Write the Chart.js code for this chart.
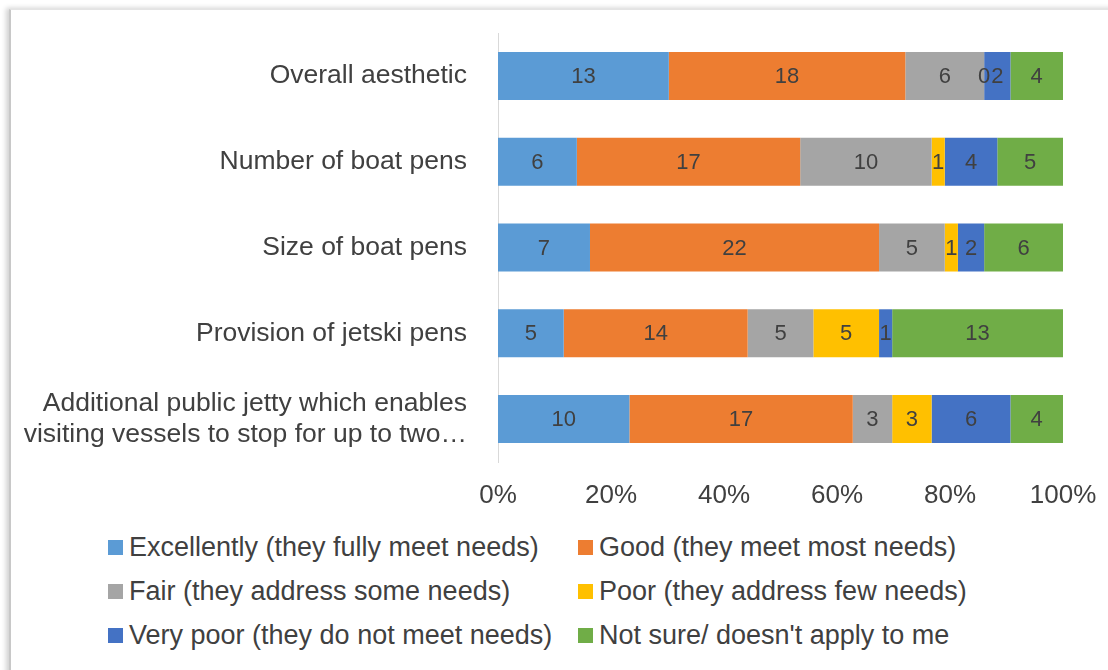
<!DOCTYPE html>
<html>
<head>
<meta charset="utf-8">
<script src="https://cdn.jsdelivr.net/npm/chart.js@4"></script>
<style>
    html, body { margin: 0; padding: 0; background: #fff; }
    body { width: 1108px; height: 670px; position: relative; overflow: hidden; font-family: "Liberation Sans", Arial, sans-serif; }
    .frame {
        position: absolute; left: 9px; top: 9px; width: 1200px; height: 800px;
        border-left: 2px solid #c8c8c8; border-top: 1px solid #e4e4e4;
        box-shadow: -3px -1px 5px rgba(0, 0, 0, 0.18);
        background: #fff;
    }
    #chartWrap { position: absolute; left: 0; top: 0; width: 1108px; height: 520px; }
    #legend {
        position: absolute; left: 108px; top: 525px;
        display: grid; grid-template-columns: 470px auto; grid-auto-rows: 44px;
        color: #404040; font-size: 27px;
    }
    .item { display: flex; align-items: center; white-space: nowrap; }
    .box { width: 15px; height: 15px; margin-right: 6px; flex: none; }
</style>
</head>
<body>
<div class="frame"></div>
<div id="chartWrap"><canvas id="chart"></canvas></div>
<div id="legend"></div>
<script>
const categories = [
    'Overall aesthetic',
    'Number of boat pens',
    'Size of boat pens',
    'Provision of jetski pens',
    ['Additional public jetty which enables', 'visiting vessels to stop for up to two\u2026']
];

const seriesNames = [
    'Excellently (they fully meet needs)',
    'Good (they meet most needs)',
    'Fair (they address some needs)',
    'Poor (they address few needs)',
    'Very poor (they do not meet needs)',
    "Not sure/ doesn't apply to me"
];

// counts per category, in the order of categories
const excellently = [13, 6, 7, 5, 10];
const good        = [18, 17, 22, 14, 17];
const fair        = [6, 10, 5, 5, 3];
const poor        = [0, 1, 1, 5, 3];
const veryPoor    = [2, 4, 2, 1, 6];
const notSure     = [4, 5, 6, 13, 4];

const xTicks = [0, 20, 40, 60, 80, 100];

const seriesColors = ['#5B9BD5', '#ED7D31', '#A5A5A5', '#FFC000', '#4472C4', '#70AD47'];

const counts = [excellently, good, fair, poor, veryPoor, notSure];
const totals = categories.map((c, i) => counts.reduce((s, arr) => s + arr[i], 0));

const textColor = '#404040';
const fontFamily = '"Liberation Sans", Arial, sans-serif';

// draws the raw count in the middle of each segment
const valueLabels = {
    id: 'valueLabels',
    afterDatasetsDraw(chart) {
        const ctx = chart.ctx;
        ctx.save();
        ctx.font = '22px ' + fontFamily;
        ctx.fillStyle = textColor;
        ctx.textAlign = 'center';
        ctx.textBaseline = 'middle';
        chart.data.datasets.forEach((ds, di) => {
            const meta = chart.getDatasetMeta(di);
            meta.data.forEach((bar, i) => {
                const x = (bar.x + bar.base) / 2;
                ctx.fillText(String(counts[di][i]), x, bar.y + 1);
            });
        });
        ctx.restore();
    }
};

const chart = new Chart(document.getElementById('chart'), {
    type: 'bar',
    data: {
        labels: categories,
        datasets: seriesNames.map((name, k) => ({
            label: name,
            data: counts[k].map((v, i) => v / totals[i] * 100),
            backgroundColor: seriesColors[k],
            borderWidth: 0,
            categoryPercentage: 1,
            barPercentage: 0.56
        }))
    },
    options: {
        indexAxis: 'y',
        responsive: true,
        maintainAspectRatio: false,
        animation: false,
        layout: { padding: { top: 33, right: 45, bottom: 0, left: 0 } },
        plugins: {
            legend: { display: false },
            tooltip: { enabled: false }
        },
        scales: {
            x: {
                stacked: true,
                min: 0,
                max: 100,
                afterBuildTicks: scale => { scale.ticks = xTicks.map(v => ({ value: v })); },
                afterFit: scale => {
                    scale.height = 58;
                    scale.paddingLeft = 0;
                    scale.paddingRight = 0;
                },
                grid: { display: false, drawTicks: false },
                border: { display: false },
                ticks: {
                    padding: 18,
                    color: textColor,
                    font: { family: fontFamily, size: 26 },
                    callback: v => v + '%'
                }
            },
            y: {
                stacked: true,
                afterFit: scale => {
                    scale.width = 498;
                    scale.paddingTop = 0;
                    scale.paddingBottom = 0;
                },
                grid: { display: false, drawTicks: false },
                border: { display: true, color: '#d9d9d9', width: 1 },
                ticks: {
                    padding: 31,
                    color: textColor,
                    font: { family: fontFamily, size: 26.5, lineHeight: 1.2 }
                }
            }
        }
    },
    plugins: [valueLabels]
});

// legend in two columns, built from the chart's datasets
const legendEl = document.getElementById('legend');
chart.data.datasets.forEach(ds => {
    const item = document.createElement('div');
    item.className = 'item';
    item.innerHTML = `<span class="box" style="background:${ds.backgroundColor}"></span><span>${ds.label}</span>`;
    legendEl.appendChild(item);
});
</script>
</body>
</html>
